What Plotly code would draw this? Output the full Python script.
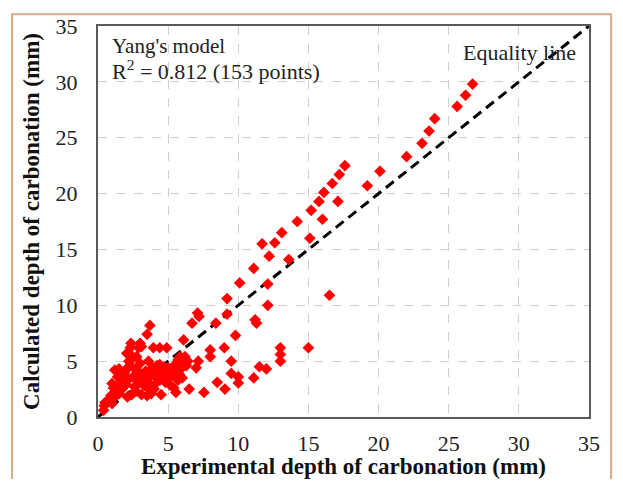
import plotly.graph_objects as go

# Experimental (x) vs calculated (y) depth of carbonation, mm
exp_depth = [
    26.7, 26.2, 25.6, 24.0, 23.6, 23.1, 22.0, 20.1, 19.2, 17.6,
    17.2, 16.7, 17.1, 16.1, 15.75, 15.2, 16.0, 14.2, 13.1, 12.6,
    11.7, 15.1, 12.2, 13.6, 11.1, 10.1, 12.1, 16.5, 12.1, 9.2,
    7.1, 7.2, 9.2, 6.7, 8.4, 11.2, 11.3, 9.8, 6.1, 9.0,
    8.0, 8.0, 13.0, 13.0, 13.0, 15.0, 9.5, 11.5, 12.0, 9.5,
    10.0, 10.0, 11.1, 8.5, 9.05, 7.55, 6.5, 7.0, 7.15,
    # dense region
    3.7, 3.5, 3.0, 3.1, 2.9, 2.3, 2.35, 3.95, 4.4, 4.9,
    2.05, 2.3, 2.5, 2.75, 3.6, 3.0, 2.2,
    5.85, 6.2, 5.7, 6.1, 6.4, 6.0, 6.3, 5.5,
    4.4, 4.7, 5.0, 4.5, 4.9, 5.2, 4.6, 5.0, 5.3, 4.4,
    4.8, 5.1, 5.7, 5.8, 5.6, 5.4, 5.55, 4.5,
    1.2, 1.5, 1.9, 1.7, 1.4, 2.1, 1.0, 1.1, 1.4, 1.6,
    1.7, 1.3, 2.0, 2.2, 1.9,
    2.5, 2.8, 3.1, 3.4, 3.0, 3.4, 2.7, 3.8, 4.1, 3.9,
    4.2, 3.6,
    3.6, 3.8, 4.0, 4.1, 3.7, 3.3, 2.9, 2.6,
    3.1, 3.5, 3.8, 2.4, 2.7, 2.1,
    0.4, 0.45, 0.5, 0.85, 0.9, 1.0, 1.2, 1.5,
    6.0, 2.3,
]
calc_depth = [
    29.8, 28.8, 27.8, 26.7, 25.6, 24.5, 23.3, 22.0, 20.7, 22.5,
    21.7, 20.9, 19.3, 20.1, 19.3, 18.5, 17.7, 17.5, 16.5, 15.6,
    15.5, 16.0, 14.4, 14.1, 13.3, 12.0, 11.9, 10.9, 10.0, 10.6,
    9.3, 9.0, 9.2, 8.4, 8.4, 8.7, 8.4, 7.3, 6.9, 6.2,
    6.0, 5.4, 6.2, 5.6, 5.0, 6.2, 5.0, 4.5, 4.3, 3.9,
    3.6, 3.05, 3.5, 3.1, 2.5, 2.2, 2.5, 4.4, 5.0,
    # dense region
    8.2, 7.4, 6.6, 6.3, 6.2, 6.2, 6.6, 6.2, 6.2, 6.2,
    5.7, 5.6, 5.3, 5.4, 5.0, 4.8, 5.0,
    5.4, 5.4, 5.1, 5.0, 5.0, 4.4, 4.6, 4.7,
    4.7, 4.5, 4.4, 4.1, 4.0, 4.2, 3.7, 3.5, 3.7, 3.3,
    3.1, 2.9, 3.3, 3.8, 4.1, 2.6, 2.2, 2.0,
    4.2, 4.3, 4.0, 3.7, 3.6, 4.4, 3.0, 2.6, 2.8, 3.1,
    2.5, 2.3, 2.9, 3.4, 3.4,
    3.6, 3.4, 3.5, 3.3, 3.9, 4.1, 4.2, 3.9, 3.6, 4.4,
    4.6, 3.5,
    3.0, 2.7, 2.5, 3.0, 2.4, 2.8, 3.0, 2.7,
    2.0, 1.9, 2.1, 2.0, 2.3, 1.8,
    0.6, 1.0, 1.3, 1.6, 1.9, 1.2, 1.8, 2.1,
    3.5, 4.6,
]

equality_x = [0, 35]
equality_y = [0, 35]
tick_vals = [0, 5, 10, 15, 20, 25, 30, 35]

SERIF = "Liberation Serif, Times New Roman, serif"

fig = go.Figure()
fig.add_trace(go.Scatter(
    x=equality_x, y=equality_y, mode="lines",
    line=dict(color="black", width=3, dash="10px,6px"),
    showlegend=False, hoverinfo="skip",
))
fig.add_trace(go.Scatter(
    x=exp_depth, y=calc_depth, mode="markers",
    marker=dict(symbol="diamond", size=9, color="#ff0000"),
    showlegend=False,
))

axis_common = dict(
    range=[0, 35], tickvals=tick_vals, showgrid=True,
    gridcolor="#cfcfcf", griddash="dash", gridwidth=1,
    showline=True, mirror=True, linecolor="#5a5a5a", linewidth=2,
    zeroline=False, ticks="", tickfont=dict(family=SERIF, size=22, color="#222"),
    automargin=False,
)

fig.update_xaxes(**axis_common, ticklabelstandoff=6,
                 title=dict(text="<b>Experimental depth of carbonation (mm)</b>",
                            font=dict(family=SERIF, size=23, color="#111"), standoff=11))
fig.update_yaxes(**axis_common, ticklabelstandoff=14,
                 title=dict(text="<b>Calculated depth of carbonation (mm)</b>",
                            font=dict(family=SERIF, size=23, color="#111"), standoff=10))

fig.add_annotation(x=0.024, y=0.950, xref="paper", yref="paper", xanchor="left", yanchor="middle",
                   text="Yang's model", showarrow=False,
                   font=dict(family=SERIF, size=21, color="#222"))
fig.add_annotation(x=0.024, y=0.888, xref="paper", yref="paper", xanchor="left", yanchor="middle",
                   text="R<sup>2</sup> = 0.812 (153 points)", showarrow=False,
                   font=dict(family=SERIF, size=22, color="#222"))
fig.add_annotation(x=0.978, y=0.933, xref="paper", yref="paper", xanchor="right", yanchor="middle",
                   text="Equality line", showarrow=False,
                   font=dict(family=SERIF, size=22, color="#222"))

fig.add_shape(type="rect", xref="paper", yref="paper",
              x0=-0.175, x1=1.045, y0=-0.25, y1=1.03,
              line=dict(color="#d9a888", width=2), layer="below")

# the page body adds an 8px margin, so the figure is sized to fit within it
fig.update_layout(
    width=607, height=471,
    margin=dict(l=90, r=26, t=18, b=62, autoexpand=False),
    paper_bgcolor="white", plot_bgcolor="white",
    showlegend=False,
)

fig.write_html("out.html")
